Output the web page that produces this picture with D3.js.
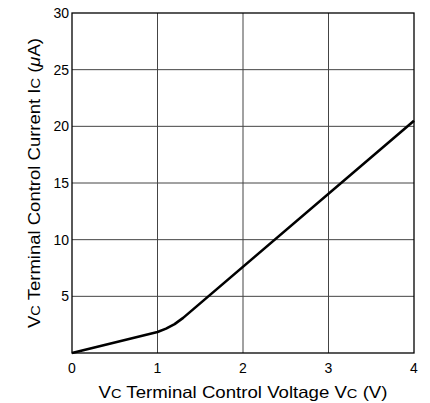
<!DOCTYPE html>
<html>
<head>
<meta charset="utf-8">
<script src="https://cdn.jsdelivr.net/npm/d3@7"></script>
<style>
  body { margin: 0; background: #fff; }
  text { font-family: "Liberation Sans", Arial, sans-serif; fill: #000; }
</style>
</head>
<body>
<svg id="chart" width="430" height="403"></svg>
<script>
const voltage = [0, 1, 1.1, 1.2, 1.3, 4]
const current = [0, 1.85, 2.15, 2.55, 3.1, 20.5]
const xTicks = [0, 1, 2, 3, 4]
const yTicks = [5, 10, 15, 20, 25, 30]

const svg = d3.select("#chart")
const m = { left: 72, right: 16, top: 13, bottom: 50 }
const W = 430, H = 403

const x = d3.scaleLinear().domain([0, 4]).range([m.left, W - m.right])
const y = d3.scaleLinear().domain([0, 30]).range([H - m.bottom, m.top])

// grid
svg.append("g").selectAll("line").data(xTicks.slice(1, -1)).join("line")
    .attr("x1", d => x(d)).attr("x2", d => x(d))
    .attr("y1", y(0)).attr("y2", y(30))
    .attr("stroke", "#444").attr("stroke-width", 1)
svg.append("g").selectAll("line").data(yTicks.slice(0, -1)).join("line")
    .attr("x1", x(0)).attr("x2", x(4))
    .attr("y1", d => y(d)).attr("y2", d => y(d))
    .attr("stroke", "#444").attr("stroke-width", 1)

// frame
svg.append("rect")
    .attr("x", x(0)).attr("y", y(30))
    .attr("width", x(4) - x(0)).attr("height", y(0) - y(30))
    .attr("fill", "none").attr("stroke", "#000").attr("stroke-width", 1.3)

// tick labels
svg.append("g").selectAll("text").data(xTicks).join("text")
    .attr("x", d => x(d)).attr("y", y(0) + 20)
    .attr("text-anchor", "middle").attr("font-size", 14)
    .text(d => d)
svg.append("g").selectAll("text").data(yTicks).join("text")
    .attr("x", x(0) - 3).attr("y", d => y(d) + 5)
    .attr("text-anchor", "end").attr("font-size", 14)
    .text(d => d)

// curve
const pts = voltage.map((v, i) => [v, current[i]])
svg.append("path")
    .datum(pts)
    .attr("fill", "none").attr("stroke", "#000").attr("stroke-width", 2.6)
    .attr("stroke-linejoin", "round")
    .attr("d", d3.line().x(d => x(d[0])).y(d => y(d[1])))

// axis titles
const xt = svg.append("text")
    .attr("x", 243).attr("y", 398)
    .attr("text-anchor", "middle").attr("font-size", 16.5)
    .attr("textLength", 289).attr("lengthAdjust", "spacingAndGlyphs")
xt.append("tspan").text("V")
xt.append("tspan").attr("font-size", 13).text("C")
xt.append("tspan").text(" Terminal Control Voltage V")
xt.append("tspan").attr("font-size", 13).text("C")
xt.append("tspan").text(" (V)")

const yt = svg.append("text")
    .attr("transform", `translate(40,183) rotate(-90)`)
    .attr("text-anchor", "middle").attr("font-size", 16.5)
    .attr("textLength", 290).attr("lengthAdjust", "spacingAndGlyphs")
yt.append("tspan").text("V")
yt.append("tspan").attr("font-size", 13).text("C")
yt.append("tspan").text(" Terminal Control Current I")
yt.append("tspan").attr("font-size", 13).text("C")
yt.append("tspan").text(" (")
yt.append("tspan").attr("font-style", "italic").text("μ")
yt.append("tspan").text("A)")
</script>
</body>
</html>
